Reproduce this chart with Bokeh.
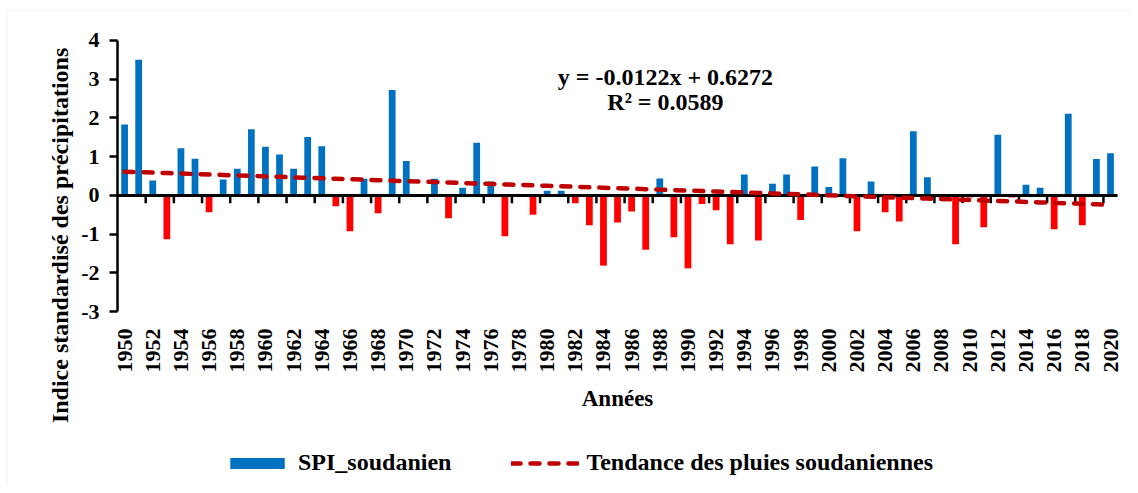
import numpy as np
from bokeh.plotting import figure
from bokeh.models import (Range1d, FixedTicker, Label, Legend, LegendItem,
                          ColumnDataSource, BoxAnnotation)
from bokeh.core.properties import value
from bokeh.embed import file_html
from bokeh.resources import INLINE

# ---------------- data ----------------
years = list(range(1950, 2021))
spi = [1.83, 3.50, 0.39, -1.13, 1.22, 0.95, -0.43, 0.41, 0.69, 1.71,
       1.26, 1.06, 0.69, 1.51, 1.27, -0.28, -0.92, 0.43, -0.46, 2.72,
       0.89, 0.00, 0.43, -0.59, 0.20, 1.36, 0.36, -1.05, 0.00, -0.50,
       0.12, 0.12, -0.20, -0.77, -1.81, -0.70, -0.41, -1.40, 0.44, -1.08,
       -1.88, -0.22, -0.38, -1.26, 0.54, -1.16, 0.30, 0.54, -0.63, 0.75,
       0.22, 0.96, -0.92, 0.36, -0.43, -0.67, 1.66, 0.47, -0.05, -1.26,
       -0.05, -0.82, 1.57, -0.05, 0.28, 0.20, -0.87, 2.11, -0.77, 0.94,
       1.09]
y_ticks = [-3, -2, -1, 0, 1, 2, 3, 4]
year_labels = [str(y) for y in years[::2]]
slope = -0.0122
intercept = 0.6272
r_squared = 0.0589

series_name = "SPI_soudanien"
trend_name = "Tendance des pluies soudaniennes"
x_title = "Années"
y_title = "Indice standardisé des précipitations"

FONT = "Liberation Serif"
BLUE = "#0070C0"
RED = "#FF0000"
DARKRED = "#C00000"

colors = [BLUE if v >= 0 else RED for v in spi]
trend = [intercept + slope * (i + 1) for i in range(len(years))]
src = ColumnDataSource(dict(year=years, spi=spi, color=colors, trend=trend))

X0, X1 = years[0] - 0.5, years[-1] + 0.5          # category axis extent
# whole canvas is the data frame, so that the Excel-style texts around the
# plot area (year labels, titles, legend) can be placed freely
p = figure(width=1130, height=485,
           x_range=Range1d(1941.19, 2021.42),
           y_range=Range1d(-7.484, 5.032),
           x_axis_location=None,
           output_backend="svg", toolbar_location=None,
           min_border_left=0, min_border_right=0,
           min_border_top=0, min_border_bottom=0)
p.outline_line_color = None
p.grid.visible = False
p.background_fill_color = "white"
p.border_fill_color = "white"

# faint chart-area border of the original
p.add_layout(BoxAnnotation(left=1941.62, right=2030, top=4.774, bottom=-9,
                           fill_alpha=0, line_color="#DCE2E8", line_width=2))

bars = p.vbar(x="year", top="spi", width=0.48, fill_color="color",
              line_color=None, source=src)

# zero line with category ticks
p.segment(x0=[X0], y0=[0], x1=[X1], y1=[0], line_color="black", line_width=3)
tick_x = [y + 0.5 for y in years[1::2]]
p.segment(x0=tick_x, y0=[0] * len(tick_x), x1=tick_x, y1=[-0.2] * len(tick_x),
          line_color="black", line_width=2.5)

trend_r = p.line(x="year", y="trend", source=src, line_color=DARKRED,
                 line_width=4.5, line_dash="9 10", line_cap="round")

# year tick labels (low position, rotated)
p.text(x=years[::2], y=[-3.43] * len(year_labels), text=year_labels,
       angle=np.pi / 2, text_align="right", text_baseline="middle",
       text_font=value(FONT), text_font_style="bold", text_font_size="22px",
       text_color="black")

# axis titles
p.text(x=[(X0 + X1) / 2], y=[-5.24], text=[x_title],
       text_align="center", text_baseline="middle",
       text_font=value(FONT), text_font_style="bold", text_font_size="23px",
       text_color="black")
p.text(x=[1945.38], y=[-1.03], text=[y_title], angle=np.pi / 2,
       text_align="center", text_baseline="middle",
       text_font=value(FONT), text_font_style="bold", text_font_size="24px",
       text_color="black")

# ---------------- value axis ----------------
ya = p.yaxis[0]
ya.fixed_location = X0
ya.bounds = (y_ticks[0], y_ticks[-1])
ya.ticker = FixedTicker(ticks=y_ticks)
ya.major_label_overrides = {v: str(v) for v in y_ticks}
ya.axis_line_width = 2.5
ya.axis_line_color = "black"
ya.major_tick_line_width = 2.5
ya.major_tick_out = 8
ya.major_tick_in = 0
ya.minor_tick_line_color = None
ya.major_label_text_font = FONT
ya.major_label_text_font_style = "bold"
ya.major_label_text_font_size = "22px"
ya.major_label_text_color = "black"
ya.major_label_standoff = 10

# equation
p.add_layout(Label(x=1988.4, y=3.06, text=f"y = {slope:.4f}x + {intercept:.4f}",
                   text_align="center", text_baseline="middle",
                   text_font=FONT, text_font_style="bold", text_font_size="24px",
                   text_color="black"))
p.add_layout(Label(x=1988.4, y=2.41, text=f"R² = {r_squared:.4f}",
                   text_align="center", text_baseline="middle",
                   text_font=FONT, text_font_style="bold", text_font_size="24px",
                   text_color="black"))

# ---------------- legend ----------------
legend = Legend(items=[LegendItem(label=series_name, renderers=[bars], index=0),
                       LegendItem(label=trend_name, renderers=[trend_r])],
                orientation="horizontal", location=(223, 9),
                glyph_width=68, glyph_height=14, label_standoff=7, spacing=60,
                padding=0, margin=0, border_line_color=None,
                background_fill_alpha=0,
                label_text_font=FONT, label_text_font_style="bold",
                label_text_font_size="24px", label_text_color="black")
p.add_layout(legend, "center")

open("out.html", "w").write(file_html(p, INLINE))
